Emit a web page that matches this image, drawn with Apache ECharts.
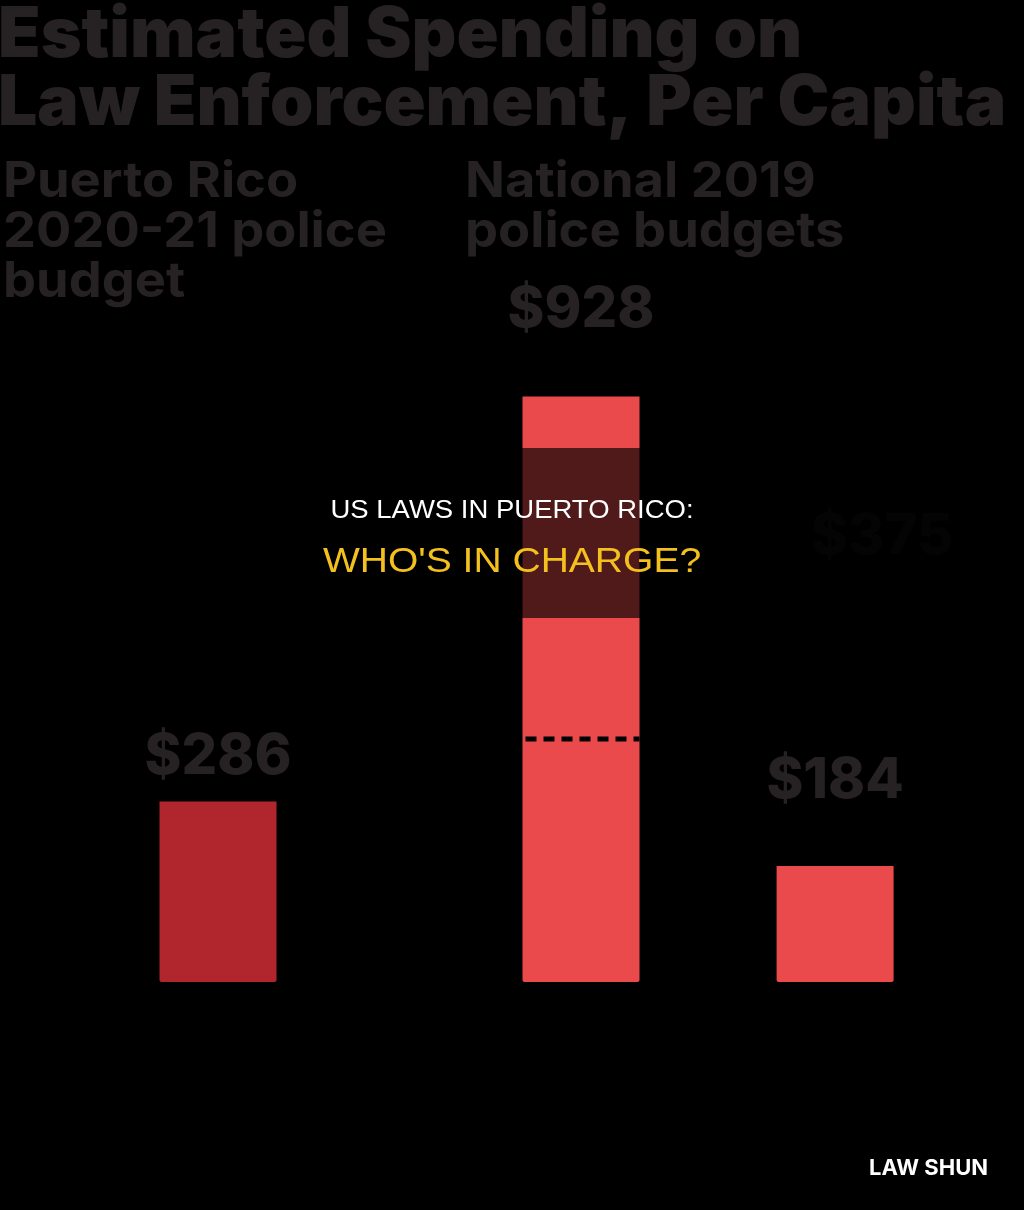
<!DOCTYPE html>
<html>
<head>
<meta charset="utf-8">
<script src="https://cdn.jsdelivr.net/npm/echarts@6/dist/echarts.min.js"></script>
<style>
html,body{margin:0;padding:0;background:#000;}
#chart{width:1024px;height:1210px;}
</style>
</head>
<body>
<div id="chart"></div>
<script>
// ---- data ----
const titleLines = ['Estimated Spending on', 'Law Enforcement, Per Capita'];
const headingPR = ['Puerto Rico', '2020-21 police', 'budget'];
const headingNational = ['National 2019', 'police budgets'];
const categories = ['Puerto Rico 2020-21 police budget', 'National 2019 police budgets', 'Other'];
const values = [286, 928, 184];
const referenceValue = [385];        // dashed line on the national bar
const noteLabel = ['$375'];
const overlayLines = ['US LAWS IN PUERTO RICO:', "WHO'S IN CHARGE?"];
const brand = 'LAW SHUN';

// ---- layout ----
const SLOT_COUNT = 25;
const SLOT_W = 36.3;
const slotIndex = [5, 15, 22];
const barColors = ['#b1262d', '#eb4a4c', '#eb4a4c'];
const labelDistance = [16, 58, 57];
const TEXT = '#262223';
const BAR_W = 117;

const slots = new Array(SLOT_COUNT).fill('');
slotIndex.forEach((s, i) => { slots[s] = categories[i]; });
const barData = new Array(SLOT_COUNT).fill('-');
slotIndex.forEach((s, i) => {
  barData[s] = {
    value: values[i],
    itemStyle: { color: barColors[i] },
    label: { distance: labelDistance[i] }
  };
});

const chart = echarts.init(document.getElementById('chart'), null, { renderer: 'canvas' });

function txt(x, y, text, font, fill, align, z, sx) {
  return { type: 'text', x: x, y: y, z: z || 10, silent: true, scaleX: sx || 1,
    style: { text: text, font: font, fill: fill, align: align || 'left', verticalAlign: 'middle' } };
}

const graphics = [];
titleLines.forEach((t, i) => graphics.push(txt(-2, 36 + i * 68, t, '900 69.6px Inter', TEXT)));
headingPR.forEach((t, i) => graphics.push(txt(3, 182 + i * 50, t, '700 49px Inter', TEXT, 'left', 10, 1.07)));
headingNational.forEach((t, i) => graphics.push(txt(465, 182 + i * 50, t, '700 49px Inter', TEXT, 'left', 10, 1.07)));
// note label sits inside the darkened band: drawn with the dimmed tone
graphics.push(txt(882, 537, noteLabel[0], '800 56px Inter', '#100e0f', 'center', 10));
graphics.push({ type: 'rect', z: 100, silent: true, shape: { x: 0, y: 448, width: 1024, height: 170 },
  style: { fill: 'rgba(0,0,0,0.66)' } });
graphics.push(txt(512, 511, overlayLines[0], '25px "Liberation Sans"', '#ffffff', 'center', 101, 1.1));
graphics.push(txt(512, 562, overlayLines[1], '35px "Liberation Sans"', '#f4c01e', 'center', 101, 1.115));
graphics.push(txt(988, 1168, brand, '700 22px Inter', '#ffffff', 'right', 101));

chart.setOption({
  backgroundColor: '#000',
  animation: false,
  grid: { left: 18.35, width: SLOT_COUNT * SLOT_W, top: 351, bottom: 228 },
  xAxis: { type: 'category', data: slots, show: false, boundaryGap: true },
  yAxis: { type: 'value', min: 0, max: 1000, show: false },
  series: [
    {
      type: 'bar',
      data: barData,
      barWidth: BAR_W,
      clip: false,
      itemStyle: { borderRadius: [0, 0, 2, 2] },
      label: {
        show: true, position: 'top', color: TEXT,
        fontWeight: 800, fontSize: 56, fontFamily: 'Inter',
        formatter: p => '$' + p.value
      }
    },
    {
      type: 'custom',
      z: 5,
      clip: false,
      data: [[slotIndex[1], referenceValue[0]]],
      renderItem: function (params, api) {
        const c = api.coord([api.value(0), api.value(1)]);
        return {
          type: 'line',
          shape: { x1: c[0] - BAR_W / 2 + 3, y1: c[1], x2: c[0] + BAR_W / 2, y2: c[1] },
          style: { stroke: '#000', lineWidth: 5, lineDash: [11, 7] }
        };
      }
    }
  ],
  graphic: graphics
});
</script>
</body>
</html>
